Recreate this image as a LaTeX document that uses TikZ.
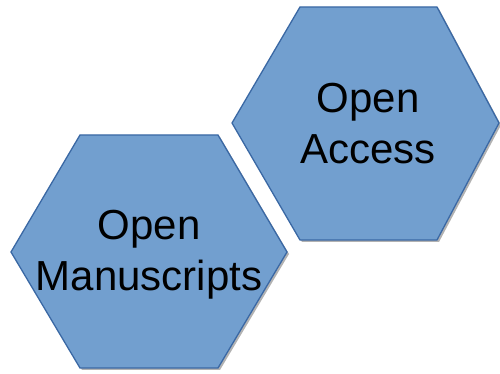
\documentclass[tikz,border=0pt]{standalone}
\usepackage{fontspec}
\setmainfont{Liberation Sans}
\usetikzlibrary{shadows}
\definecolor{hexfill}{RGB}{114,159,207}
\definecolor{hexline}{RGB}{58,104,164}

\begin{document}
\begin{tikzpicture}[x=1pt,y=1pt,
  hexa/.style={draw=hexline,fill=hexfill,line width=1.3pt,
    drop shadow={shadow xshift=2pt,shadow yshift=-2pt,fill=black,opacity=.3}},
  every node/.style={align=center,inner sep=0pt,font=\fontsize{42}{51}\selectfont}]
  \useasboundingbox (0,0) rectangle (500,374);
  \draw[hexa] (11,122)--(80,239)--(218,239)--(287,122)--(218,6)--(80,6)--cycle;
  \draw[hexa] (232,251)--(300,367)--(437,367)--(499,251)--(437,134)--(300,134)--cycle;
  \node (manu) at (149,119) {Open\\Manuscripts};
  \node (access) at (368,250) {Open\\Access};
\end{tikzpicture}
\end{document}
